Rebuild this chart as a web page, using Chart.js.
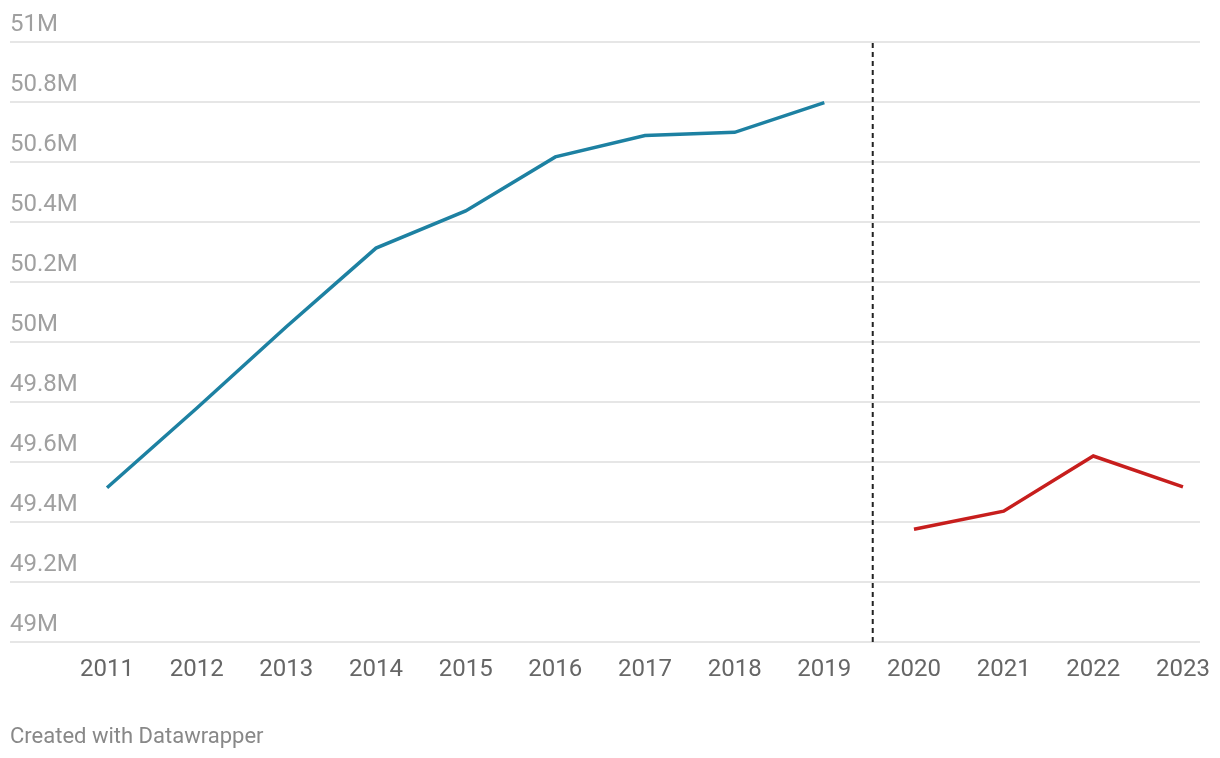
<!DOCTYPE html>
<html>
<head>
<meta charset="utf-8">
<script src="https://cdn.jsdelivr.net/npm/chart.js@4"></script>
<style>
  html, body { margin: 0; padding: 0; background: #fff; }
  #wrap { position: relative; width: 1220px; height: 758px; }
  #credit { position: absolute; left: 10px; top: 723px; font: 22px Roboto, sans-serif; color: #888; }
</style>
</head>
<body>
<div id="wrap">
  <canvas id="chart" width="1220" height="758"></canvas>
  <div id="credit">Created with Datawrapper</div>
</div>
<script>
'use strict';

// 年とデータ
const yearsBefore = [2011, 2012, 2013, 2014, 2015, 2016, 2017, 2018, 2019];
const valuesBefore = [49.514, 49.779, 50.051, 50.313, 50.437, 50.617, 50.688, 50.699, 50.798];
const yearsAfter = [2020, 2021, 2022, 2023];
const valuesAfter = [49.376, 49.436, 49.62, 49.517];
const tickYears = [2011, 2012, 2013, 2014, 2015, 2016, 2017, 2018, 2019, 2020, 2021, 2022, 2023];
const breakYear = 2019.54;
const yMin = 49, yMax = 51;

const toPoints = (xs, ys) => xs.map((x, i) => ({ x: x, y: ys[i] }));

const ctx = document.getElementById('chart');

let chart = new Chart(ctx, {
  type: 'line',
  data: {
    datasets: [
      {
        data: [{ x: breakYear, y: yMin }, { x: breakYear, y: yMax }],
        borderColor: '#222222',
        borderWidth: 2,
        borderDash: [5, 4],
        pointRadius: 0,
      },
      {
        data: toPoints(yearsBefore, valuesBefore),
        borderColor: '#1d81a2',
        borderWidth: 3.5,
        pointRadius: 0,
      },
      {
        data: toPoints(yearsAfter, valuesAfter),
        borderColor: '#c71e1d',
        borderWidth: 3.5,
        pointRadius: 0,
      },
    ],
  },
  options: {
    responsive: false,
    animation: false,
    layout: { padding: { left: 10, right: 20, top: 42, bottom: 0 } },
    plugins: { legend: { display: false }, tooltip: { enabled: false } },
    scales: {
      x: {
        type: 'linear',
        min: 2009.918,
        max: 2023.19,
        grid: { display: false },
        border: { display: false },
        afterBuildTicks: s => { s.ticks = tickYears.map(v => ({ value: v })); },
        afterFit: s => { s.height = 116; },
        ticks: {
          padding: 6,
          color: '#666666',
          font: { family: 'Roboto', size: 24 },
          callback: v => String(v),
          maxRotation: 0,
          autoSkip: false,
        },
      },
      y: {
        min: yMin,
        max: yMax,
        border: { display: false },
        grid: { color: '#e6e6e6', lineWidth: 2, drawTicks: false },
        afterFit: s => { s.width = 0; },
        ticks: {
          stepSize: 0.2,
          mirror: true,
          padding: 0,
          labelOffset: -17,
          color: '#a0a0a0',
          font: { family: 'Roboto', size: 24 },
          callback: v => (Math.round(v * 10) / 10) + 'M',
        },
      },
    },
  },
});
</script>
</body>
</html>
